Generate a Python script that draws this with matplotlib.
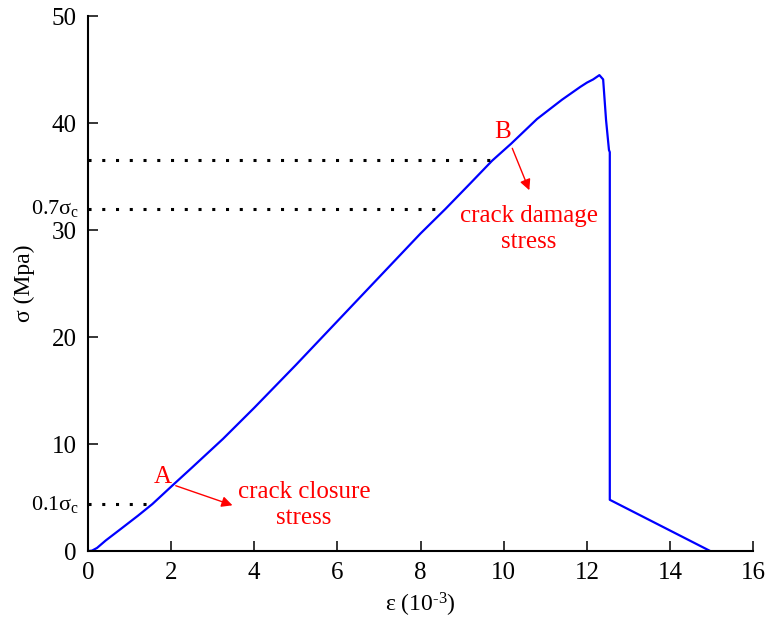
import numpy as np
import matplotlib
matplotlib.use("Agg")
import matplotlib.pyplot as plt

# stress-strain curve (strain in 1e-3, stress in MPa)
strain = [0, 0.1, 0.22, 0.43, 0.8, 1.2, 1.55, 2.05, 2.5, 3.25, 4.0, 5.0, 6.0,
          7.0, 8.0, 8.6, 9.2, 9.72, 10.18, 10.8, 11.4, 11.84, 12.0, 12.15,
          12.3, 12.39, 12.46, 12.53, 12.55, 12.55, 14.97]
stress = [0, 0.05, 0.3, 1.0, 2.1, 3.3, 4.4, 6.2, 7.8, 10.5, 13.4, 17.4, 21.5,
          25.6, 29.7, 32.0, 34.4, 36.5, 38.1, 40.4, 42.2, 43.4, 43.8, 44.1,
          44.5, 44.1, 40.3, 37.5, 37.3, 4.8, 0]

# reference stress levels and where the dotted guides stop
ref_stress = [4.4, 32.0, 36.6]
ref_strain = [1.55, 8.59, 9.72]
ref_labels = {4.4: '0.1σ$_{\\rm c}$', 32.0: '0.7σ$_{\\rm c}$'}

xticks = np.arange(0, 17, 2)
yticks = np.arange(0, 51, 10)

plt.rcParams['font.family'] = ['Liberation Serif', 'DejaVu Serif']
plt.rcParams['mathtext.fontset'] = 'custom'
plt.rcParams['mathtext.rm'] = 'Liberation Serif'
plt.rcParams['mathtext.it'] = 'Liberation Serif:italic'
fontsize = 18

fig = plt.figure(figsize=(7.71, 6.27), dpi=100)
ax = fig.add_axes([0.114, 0.121, 0.863, 0.853])

ax.plot(strain, stress, color='#0000ff', linewidth=1.6)

for s, e in zip(ref_stress, ref_strain):
    ax.plot([0, e], [s, s], color='black', linewidth=2.2,
            linestyle=(0, (1, 3.5)), dash_capstyle='butt')
for s, lab in ref_labels.items():
    ax.text(-0.2, s, lab, ha='right', va='center', fontsize=16)

ax.set_xlim(0, 16)
ax.set_ylim(0, 50)
ax.set_xticks(xticks)
ax.set_yticks(yticks)
ax.tick_params(direction='in', length=7, width=1.1, labelsize=fontsize, pad=8)
for side in ['top', 'right']:
    ax.spines[side].set_visible(False)
for side in ['left', 'bottom']:
    ax.spines[side].set_linewidth(1.5)

ax.set_xlabel('ε (10$^{\\rm \u2010 3}$)', fontsize=17, labelpad=5)
ax.set_ylabel('σ (Mpa)', fontsize=17, labelpad=12)

red = '#ff0000'
ax.text(1.8, 6.9, 'A', color=red, fontsize=fontsize, ha='center', va='center')
ax.text(9.98, 39.2, 'B', color=red, fontsize=fontsize, ha='center', va='center')
ax.annotate('', xy=(3.54, 4.2), xytext=(2.05, 6.2),
            arrowprops=dict(arrowstyle='-|>', color=red, lw=1.0, mutation_scale=16))
ax.annotate('', xy=(10.64, 33.5), xytext=(10.18, 37.9),
            arrowprops=dict(arrowstyle='-|>', color=red, lw=1.0, mutation_scale=16))
ax.text(5.2, 4.3, 'crack closure\nstress', color=red, fontsize=fontsize,
        ha='center', va='center', linespacing=1.2)
ax.text(10.6, 30.1, 'crack damage\nstress', color=red, fontsize=fontsize,
        ha='center', va='center', linespacing=1.2)

plt.savefig('out.png', dpi=100)
